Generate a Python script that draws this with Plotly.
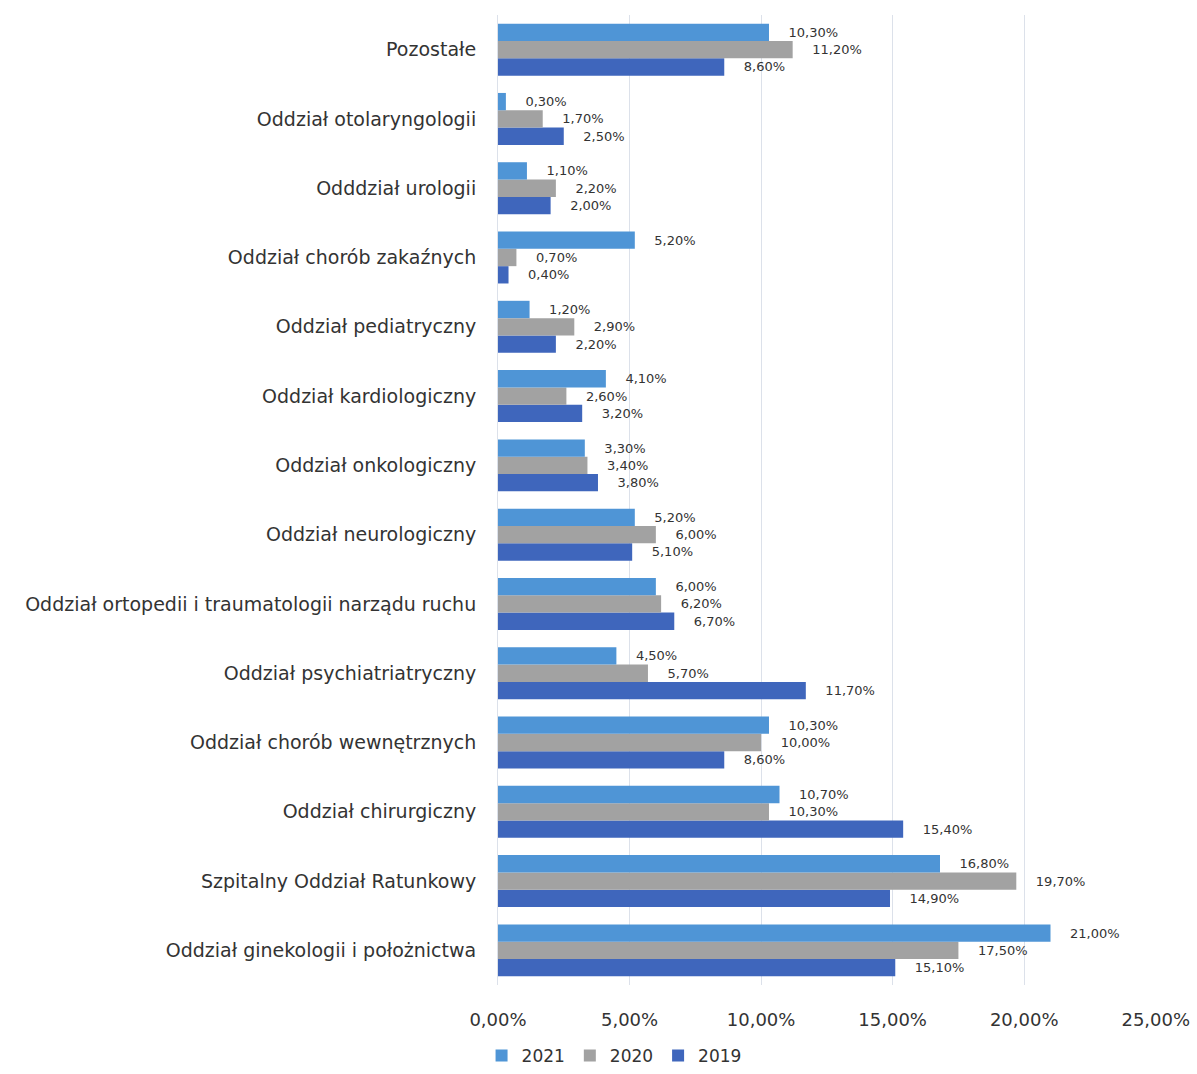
import plotly.graph_objects as go

# Hospital departments, listed bottom-to-top as drawn on the category axis
departments = [
    "Oddział ginekologii i położnictwa",
    "Szpitalny Oddział Ratunkowy",
    "Oddział chirurgiczny",
    "Oddział chorób wewnętrznych",
    "Oddział psychiatriatryczny",
    "Oddział ortopedii i traumatologii narządu ruchu",
    "Oddział neurologiczny",
    "Oddział onkologiczny",
    "Oddział kardiologiczny",
    "Oddział pediatryczny",
    "Oddział chorób zakaźnych",
    "Odddział urologii",
    "Oddział otolaryngologii",
    "Pozostałe",
]

# Share of cases per department (percent)
share_2021 = [21.0, 16.8, 10.7, 10.3, 4.5, 6.0, 5.2, 3.3, 4.1, 1.2, 5.2, 1.1, 0.3, 10.3]
share_2020 = [17.5, 19.7, 10.3, 10.0, 5.7, 6.2, 6.0, 3.4, 2.6, 2.9, 0.7, 2.2, 1.7, 11.2]
share_2019 = [15.1, 14.9, 15.4, 8.6, 11.7, 6.7, 5.1, 3.8, 3.2, 2.2, 0.4, 2.0, 2.5, 8.6]

x_ticks = [0, 0.05, 0.10, 0.15, 0.20, 0.25]

series = [
    ("2019", share_2019, "#3F66BC"),
    ("2020", share_2020, "#A2A2A2"),
    ("2021", share_2021, "#4F95D6"),
]

fig = go.Figure()
for name, vals, color in series:
    fig.add_trace(go.Bar(
        name=name,
        y=departments,
        x=[v / 100 for v in vals],
        orientation="h",
        marker=dict(color=color, line=dict(width=0)),
        # non-breaking spaces push the value labels a little away from the bar ends
        texttemplate="\u00a0\u00a0\u00a0\u00a0%{x:.2%}",
        textposition="outside",
        textfont=dict(family="DejaVu Sans", size=13, color="#333333"),
        cliponaxis=False,
        hoverinfo="skip",
    ))

fig.update_layout(
    width=1197,
    height=1074,
    barmode="group",
    bargap=0.25,
    bargroupgap=0,
    separators=", ",
    paper_bgcolor="white",
    plot_bgcolor="white",
    margin=dict(l=498, r=41, t=15, b=89, autoexpand=False),
    font=dict(family="DejaVu Sans", color="#333333"),
    xaxis=dict(
        range=[0, 0.2501],
        tickvals=x_ticks,
        tickformat=".2%",
        showgrid=True,
        gridcolor="#DCE1EA",
        gridwidth=1,
        zeroline=False,
        showline=False,
        tickfont=dict(size=18, color="#333333"),
        ticks="",
        ticklabelstandoff=22,
        automargin=False,
    ),
    yaxis=dict(
        categoryorder="array",
        categoryarray=departments,
        showline=True,
        linecolor="#DCE1EA",
        linewidth=1,
        ticks="",
        ticklabelstandoff=17,
        tickfont=dict(size=19, color="#333333"),
        automargin=False,
    ),
    legend=dict(
        orientation="h",
        traceorder="reversed",
        xref="container",
        yref="container",
        x=0.513,
        xanchor="center",
        y=1 - 1056 / 1074,
        yanchor="middle",
        font=dict(size=17, color="#333333"),
        itemwidth=30,
    ),
)

fig.write_html("out.html")
